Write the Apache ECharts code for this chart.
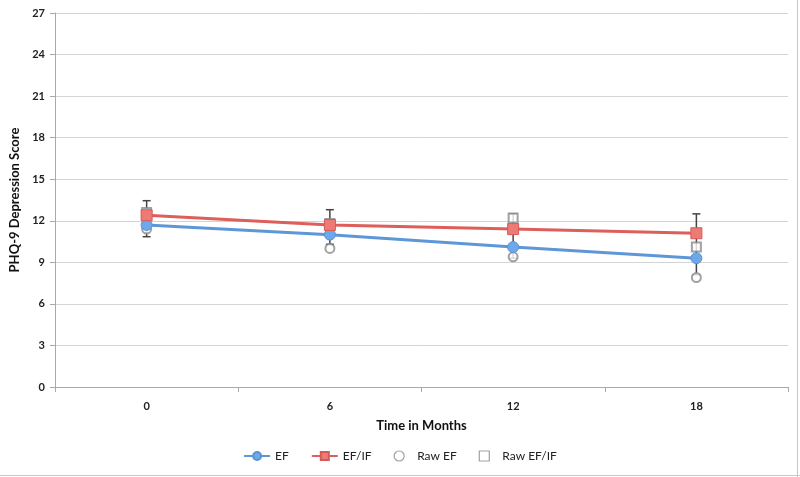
<!DOCTYPE html>
<html>
<head>
<meta charset="utf-8">
<script src="https://cdn.jsdelivr.net/npm/echarts@6/dist/echarts.min.js"></script>
<style>html,body{margin:0;padding:0;background:#fff}#c{width:800px;height:477px}</style>
</head>
<body>
<div id="c"></div>
<script>
var months = ['0', '6', '12', '18'];
var efValues = [11.7, 11.0, 10.1, 9.3];
var efifValues = [12.4, 11.7, 11.4, 11.1];
var rawEf = [11.4, 10.0, 9.4, 7.9];
var rawEfif = [12.6, 11.8, 12.2, 10.1];
var errLow = [10.85, 10.3, 9.3, 8.1];
var errHigh = [13.45, 12.8, 12.5, 12.5];
var yTicks = [0, 3, 6, 9, 12, 15, 18, 21, 24, 27];

var FONT = 'Lato';
var chart = echarts.init(document.getElementById('c'), null, {renderer: 'canvas'});
var errData = months.map(function (m, i) { return [i, errLow[i], errHigh[i]]; });
var hollow = {color: '#fff', borderColor: '#8a8a8a', borderWidth: 1.2};

chart.setOption({
  backgroundColor: '#fff',
  animation: false,
  textStyle: {fontFamily: FONT},
  grid: {left: 53, right: 12, top: 13, bottom: 90},
  legend: {
    bottom: 10, left: 'center', itemGap: 22, itemWidth: 26, itemHeight: 10,
    textStyle: {fontFamily: FONT, fontSize: 12, color: '#222'},
    data: [
      {name: 'EF'},
      {name: 'EF/IF'},
      {name: 'Raw EF', icon: 'circle', itemStyle: hollow},
      {name: 'Raw EF/IF', icon: 'path://M0,0H10V10H0Z', itemStyle: hollow}
    ]
  },
  xAxis: {
    type: 'category', data: months, boundaryGap: true,
    name: 'Time in Months', nameLocation: 'middle', nameGap: 32,
    nameTextStyle: {fontFamily: FONT, fontWeight: 'bold', fontSize: 13, color: '#111'},
    axisLine: {lineStyle: {color: '#aaa', width: 1}},
    axisTick: {show: true, interval: 0, alignWithLabel: false, length: 5, lineStyle: {color: '#aaa'}},
    axisLabel: {fontFamily: FONT, fontWeight: 'bold', fontSize: 11, color: '#222', margin: 14},
    splitLine: {show: false}
  },
  yAxis: {
    type: 'value', min: yTicks[0], max: yTicks[yTicks.length - 1], interval: 3,
    name: 'PHQ-9 Depression Score', nameLocation: 'middle', nameGap: 34, nameRotate: 90,
    nameTextStyle: {fontFamily: FONT, fontWeight: 'bold', fontSize: 13, color: '#111'},
    axisLine: {show: true, lineStyle: {color: '#aaa', width: 1}},
    axisTick: {show: true, length: 5, lineStyle: {color: '#aaa'}},
    axisLabel: {fontFamily: FONT, fontWeight: 'bold', fontSize: 11, color: '#222', margin: 10},
    splitLine: {show: true, lineStyle: {color: '#d4d4d4', width: 1}}
  },
  series: [
    {
      name: 'errors', type: 'custom', data: errData, z: 1, silent: true,
      encode: {x: 0, y: [1, 2]},
      renderItem: function (params, api) {
        var x = api.value(0);
        var lo = api.coord([x, api.value(1)]);
        var hi = api.coord([x, api.value(2)]);
        var w = 4;
        var st = {stroke: '#444', lineWidth: 1.5};
        return {type: 'group', children: [
          {type: 'line', shape: {x1: lo[0], y1: lo[1], x2: hi[0], y2: hi[1]}, style: st},
          {type: 'line', shape: {x1: lo[0] - w, y1: lo[1], x2: lo[0] + w, y2: lo[1]}, style: st},
          {type: 'line', shape: {x1: hi[0] - w, y1: hi[1], x2: hi[0] + w, y2: hi[1]}, style: st}
        ]};
      }
    },
    {
      name: 'Raw EF', type: 'scatter', data: rawEf, symbol: 'emptyCircle', symbolSize: 9, z: 2,
      symbolKeepAspect: true,
      itemStyle: {color: '#8a8a8a', borderWidth: 1.5}
    },
    {
      name: 'Raw EF/IF', type: 'scatter', data: rawEfif, symbol: 'emptyRect', symbolSize: 9, z: 2,
      symbolKeepAspect: true,
      itemStyle: {color: '#8a8a8a', borderWidth: 1.5}
    },
    {
      name: 'EF', type: 'line', data: efValues, symbol: 'circle', symbolSize: 11, z: 3,
      lineStyle: {color: '#5e97d8', width: 3},
      itemStyle: {color: '#6ea8ec', borderColor: '#5b93d3', borderWidth: 1}
    },
    {
      name: 'EF/IF', type: 'line', data: efifValues, symbol: 'rect', symbolSize: 11, z: 3,
      lineStyle: {color: '#dc5f5b', width: 3},
      itemStyle: {color: '#ee7a76', borderColor: '#d65a56', borderWidth: 1}
    }
  ],
  graphic: [
    {type: 'line', shape: {x1: 797.5, y1: 0, x2: 797.5, y2: 477}, style: {stroke: '#c8c8c8', lineWidth: 1}},
    {type: 'line', shape: {x1: 0, y1: 475.5, x2: 800, y2: 475.5}, style: {stroke: '#c8c8c8', lineWidth: 1}}
  ]
});
</script>
</body>
</html>
